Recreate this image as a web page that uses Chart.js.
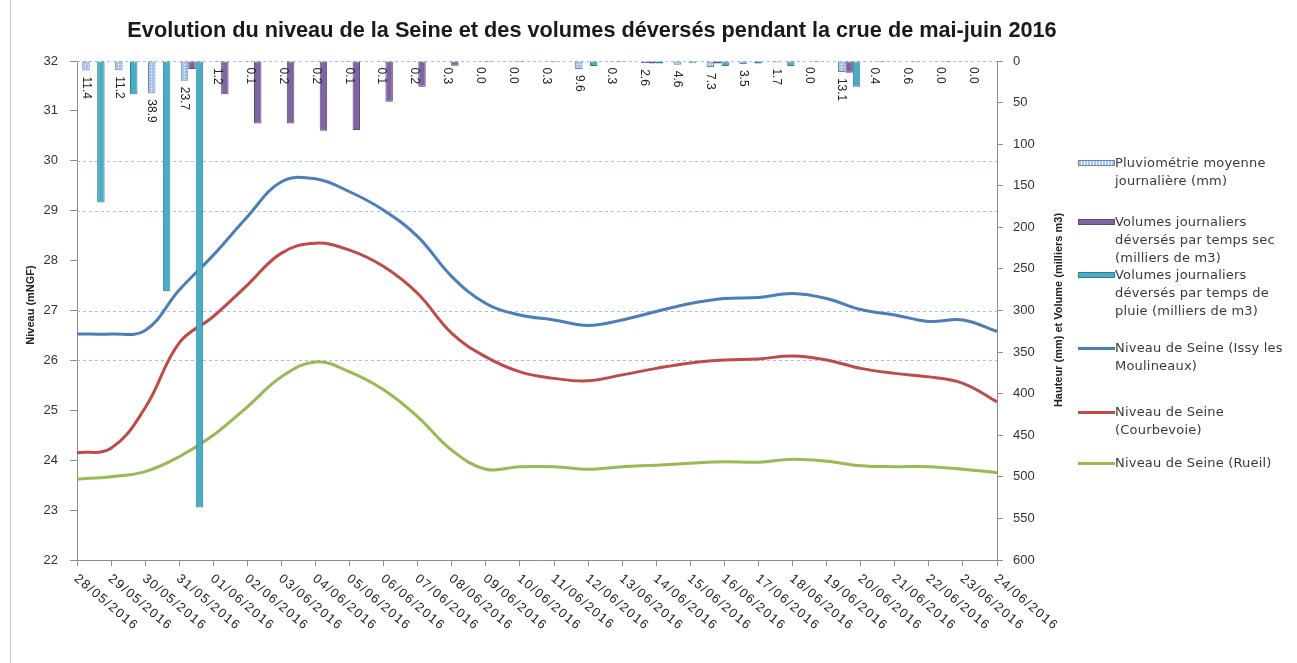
<!DOCTYPE html>
<html>
<head>
<meta charset="utf-8">
<script src="https://cdn.jsdelivr.net/npm/chart.js@4.4.1/dist/chart.umd.min.js"></script>
<style>
	body { margin: 0; background: #fff; font-family: 'Liberation Sans', Arial, sans-serif; }
	#wrap { position: relative; width: 1297px; height: 663px; overflow: hidden; }
	#frame { position: absolute; left: 10px; top: 0; width: 1px; height: 663px; background: #c8c8c8; }
	#chart { position: absolute; left: 0; top: 0; }
	#legend { position: absolute; left: 1078px; top: 0; width: 219px; height: 663px; }
	.sw { position: absolute; left: 0; width: 37px; }
	.lt { position: absolute; left: 37px; font-family: 'DejaVu Sans', sans-serif; font-size: 13px; letter-spacing: 0.2px;
		line-height: 18.4px; color: #3a3a3a; white-space: nowrap; }
</style>
</head>
<body>
<div id="wrap">
	<div id="frame"></div>
	<canvas id="chart" width="1297" height="663"></canvas>
	<div id="legend"></div>
</div>
<script>
/* data */
const labels = ['28/05/2016', '29/05/2016', '30/05/2016', '31/05/2016', '01/06/2016', '02/06/2016', '03/06/2016',
	'04/06/2016', '05/06/2016', '06/06/2016', '07/06/2016', '08/06/2016', '09/06/2016', '10/06/2016',
	'11/06/2016', '12/06/2016', '13/06/2016', '14/06/2016', '15/06/2016', '16/06/2016', '17/06/2016',
	'18/06/2016', '19/06/2016', '20/06/2016', '21/06/2016', '22/06/2016', '23/06/2016', '24/06/2016']

// Pluviométrie moyenne journalière (mm)
const pluvio = [11.4, 11.2, 38.9, 23.7, 1.2, 0.1, 0.2, 0.2, 0.1, 0.1, 0.2, 0.3, 0.0, 0.0,
	0.3, 9.6, 0.3, 2.6, 4.6, 7.3, 3.5, 1.7, 0.0, 13.1, 0.4, 0.6, 0.0, 0.0]
// Volumes journaliers déversés par temps sec (milliers de m3)
const volSec = [0, 0, 0, 9.6, 40, 75, 75, 84, 83, 49, 31, 5.6, 1.5, 1.5,
	1.5, 0, 1.5, 3, 0, 3, 0, 0, 1.5, 14, 1.5, 1.5, 1.5, 0]
// Volumes journaliers déversés par temps de pluie (milliers de m3)
const volPluie = [170, 40, 277, 537, 0, 0, 0, 0, 0, 0, 0, 0, 0, 0,
	0, 6, 0, 3, 2, 6, 3, 6, 0, 31, 0, 0, 0, 0]
// Niveau de Seine (mNGF)
const issy = [26.53, 26.53, 26.6, 27.41, 28.11, 28.88, 29.58, 29.64, 29.38, 29.01, 28.48, 27.68, 27.14, 26.91,
	26.81, 26.7, 26.81, 26.98, 27.14, 27.24, 27.26, 27.34, 27.24, 27.02, 26.91, 26.78, 26.81, 26.58]
const courbevoie = [24.15, 24.24, 25.05, 26.35, 26.88, 27.51, 28.15, 28.35, 28.21, 27.88, 27.34, 26.54, 26.07, 25.77,
	25.64, 25.59, 25.71, 25.84, 25.95, 26.01, 26.03, 26.09, 26.01, 25.84, 25.74, 25.67, 25.54, 25.17]
const rueil = [23.62, 23.67, 23.77, 24.07, 24.5, 25.07, 25.67, 25.97, 25.77, 25.41, 24.87, 24.2, 23.82, 23.87,
	23.87, 23.82, 23.87, 23.9, 23.94, 23.97, 23.96, 24.02, 23.98, 23.89, 23.87, 23.87, 23.82, 23.75]

const gridValues = [32, 30, 29, 27, 26]
const seriesNames = [
	'Pluviométrie moyenne\njournalière (mm)',
	'Volumes journaliers\ndéversés par temps sec\n(milliers de m3)',
	'Volumes journaliers\ndéversés par temps de\npluie (milliers de m3)',
	'Niveau de Seine (Issy les\nMoulineaux)',
	'Niveau de Seine\n(Courbevoie)',
	'Niveau de Seine (Rueil)'
]
const titleText = 'Evolution du niveau de la Seine et des volumes déversés pendant la crue de mai-juin 2016'
const leftTitle = 'Niveau (mNGF)'
const rightTitle = 'Hauteur (mm) et Volume (milliers m3)'

const FONT = "'Liberation Sans', Arial, sans-serif"
const axisGray = '#8c8c8c'

// Chart.js 4.4 gives every x axis its own slot in a bar group; the lines sit on
// their own axis (x) and must not push the bars of x2 off centre.
class GroupBars extends Chart.BarController {
	_getAxisCount() {
		return 1
	}
}
GroupBars.id = 'groupBars'
Chart.register(GroupBars)

// dotted fill for the rain bars
const pat = document.createElement('canvas')
pat.width = 3
pat.height = 3
const pc = pat.getContext('2d')
pc.fillStyle = '#a9c4e6'
pc.fillRect(0, 0, 3, 3)
pc.fillStyle = '#ffffff'
pc.fillRect(1, 1, 1, 1)
const pluvioFill = pc.createPattern(pat, 'repeat')

const extras = {
	id: 'extras',
	beforeDatasetsDraw(chart) {
		const { ctx, chartArea } = chart
		const y = chart.scales.y
		ctx.save()
		ctx.strokeStyle = '#a4bde0'
		ctx.lineWidth = 1
		ctx.setLineDash([3, 3])
		gridValues.forEach((v) => {
			const py = Math.round(y.getPixelForValue(v)) + 0.5
			ctx.beginPath()
			ctx.moveTo(chartArea.left, py)
			ctx.lineTo(chartArea.right, py)
			ctx.stroke()
		})
		ctx.restore()
	},
	afterDatasetsDraw(chart) {
		const { ctx } = chart
		// rain values under their bars
		const meta = chart.getDatasetMeta(0)
		ctx.save()
		ctx.fillStyle = '#222'
		ctx.font = '12px ' + FONT
		ctx.textAlign = 'left'
		ctx.textBaseline = 'middle'
		meta.data.forEach((bar, i) => {
			const end = Math.max(bar.y, bar.base)
			ctx.save()
			ctx.translate(bar.x, end + 6)
			ctx.rotate(Math.PI / 2)
			ctx.fillText(pluvio[i].toFixed(1), 0, 0)
			ctx.restore()
		})
		ctx.restore()
	},
	afterDraw(chart) {
		const { ctx } = chart
		const x = chart.scales.x
		ctx.save()
		// date labels
		ctx.fillStyle = '#222'
		ctx.font = '13px ' + FONT
		ctx.letterSpacing = '1.4px'
		ctx.textAlign = 'left'
		ctx.textBaseline = 'top'
		labels.forEach((lab, i) => {
			const px = x.getPixelForValue(i)
			ctx.save()
			ctx.translate(px + 3, 572)
			ctx.rotate(40 * Math.PI / 180)
			ctx.fillText(lab, 0, 0)
			ctx.restore()
		})
		ctx.letterSpacing = '0px'
		// axis titles
		ctx.font = 'bold 11px ' + FONT
		ctx.textAlign = 'center'
		ctx.textBaseline = 'middle'
		ctx.save()
		ctx.translate(31, 305)
		ctx.rotate(-Math.PI / 2)
		ctx.fillText(leftTitle, 0, 0)
		ctx.restore()
		ctx.save()
		ctx.translate(1059, 310)
		ctx.rotate(-Math.PI / 2)
		ctx.fillText(rightTitle, 0, 0)
		ctx.restore()
		// chart title, fitted to the width it has in the picture
		ctx.font = 'bold 18px ' + FONT
		const w = ctx.measureText(titleText).width
		const size = 18 * 930 / w
		ctx.font = 'bold ' + size.toFixed(2) + 'px ' + FONT
		ctx.fillStyle = '#1a1a1a'
		ctx.fillText(titleText, 592, 31)
		ctx.restore()
	}
}

const barCommon = {
	type: 'groupBars',
	xAxisID: 'x2',
	yAxisID: 'y2',
	order: 1,
	borderWidth: 1,
	borderSkipped: false,
	categoryPercentage: 0.68,
	barPercentage: 1.0
}
const lineCommon = {
	type: 'line',
	xAxisID: 'x',
	yAxisID: 'y',
	order: 2,
	borderWidth: 3,
	pointRadius: 0,
	tension: 0.4,
	fill: false
}

new Chart(document.getElementById('chart'), {
	type: 'line',
	data: {
		labels: labels,
		datasets: [
			{ ...barCommon, label: seriesNames[0], data: pluvio, backgroundColor: pluvioFill, borderColor: '#5b86c0' },
			{ ...barCommon, label: seriesNames[1], data: volSec, backgroundColor: '#8064a2', borderColor: '#5f4a7c' },
			{ ...barCommon, label: seriesNames[2], data: volPluie, backgroundColor: '#4bacc6', borderColor: '#2f7f96' },
			{ ...lineCommon, label: seriesNames[3], data: issy, borderColor: '#4a7ebb' },
			{ ...lineCommon, label: seriesNames[4], data: courbevoie, borderColor: '#be4b48' },
			{ ...lineCommon, label: seriesNames[5], data: rueil, borderColor: '#98b954' }
		]
	},
	options: {
		responsive: false,
		animation: false,
		layout: { padding: { top: 61, left: 0, right: 0, bottom: 0 } },
		plugins: { legend: { display: false }, title: { display: false }, tooltip: { enabled: false } },
		scales: {
			x: {
				type: 'category',
				position: 'bottom',
				offset: false,
				grid: { offset: false, drawOnChartArea: false, drawTicks: true, tickLength: 6, tickColor: axisGray },
				border: { color: axisGray, width: 1 },
				ticks: { display: false, autoSkip: false },
				afterFit: (s) => { s.height = 663 - 560 }
			},
			// category axis of the bars: one slot per day, not drawn
			x2: {
				type: 'category',
				display: false,
				offset: true,
				grid: { offset: true }
			},
			y: {
				position: 'left',
				min: 22,
				max: 32,
				ticks: { stepSize: 1, padding: 12, color: '#333', font: { size: 13, family: FONT } },
				grid: { drawOnChartArea: false, drawTicks: true, tickLength: 7, tickColor: axisGray },
				border: { color: axisGray, width: 1 },
				afterFit: (s) => { s.width = 77 }
			},
			y2: {
				position: 'right',
				reverse: true,
				min: 0,
				max: 600,
				ticks: { stepSize: 50, padding: 10, color: '#333', font: { size: 13, family: FONT } },
				grid: { drawOnChartArea: false, drawTicks: true, tickLength: 6, tickColor: axisGray },
				border: { color: axisGray, width: 1 },
				afterFit: (s) => { s.width = 1297 - 997 }
			}
		}
	},
	plugins: [extras]
})

/* legend on the right, as in the picture */
const legendRows = [163, 222, 275, 348, 412, 463]
const swatches = [
	'height:6px;background:repeating-linear-gradient(90deg,#a9c4e6 0 2px,#fff 2px 3px);border:1px solid #5b86c0;box-sizing:border-box',
	'height:6px;background:#8064a2;border:1px solid #5f4a7c;box-sizing:border-box',
	'height:6px;background:#4bacc6;border:1px solid #2f7f96;box-sizing:border-box',
	'height:3px;background:#4a7ebb',
	'height:3px;background:#be4b48',
	'height:3px;background:#98b954'
]
document.getElementById('legend').innerHTML = seriesNames.map((name, i) => {
	const top = legendRows[i]
	const h = i < 3 ? 6 : 3
	return `<div class="sw" style="top:${top - h / 2}px;${swatches[i]}"></div>
	<div class="lt" style="top:${top - 9.5}px">${name.split('\n').join('<br>')}</div>`
}).join('')
</script>
</body>
</html>
